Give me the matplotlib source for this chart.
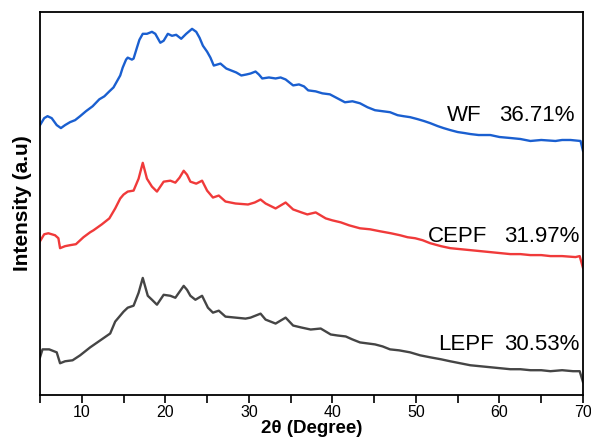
import matplotlib.pyplot as plt
from matplotlib.ticker import MultipleLocator

plt.rcParams["font.family"] = ["Liberation Sans", "DejaVu Sans"]

# 2theta (deg) and intensity (a.u.)
wf_x = [5.0, 5.5, 5.9, 6.4, 7.0, 7.5, 8.0, 8.6, 9.2, 9.8,
        10.5, 11.3, 12.1, 12.7, 13.3, 13.8, 14.2, 14.6, 14.9, 15.3,
        15.5, 16.0, 16.2, 16.6, 16.9, 17.3, 17.8, 18.4, 18.8, 19.4,
        19.8, 20.3, 20.8, 21.3, 21.9, 22.5, 23.2, 23.7, 24.1, 24.5,
        25.0, 25.4, 25.8, 26.2, 26.6, 27.3, 27.9, 28.5, 29.1, 29.7,
        30.2, 30.8, 31.2, 31.6, 32.4, 33.2, 33.8, 34.4, 35.3, 36.0,
        36.6, 37.1, 38.0, 38.8, 39.7, 40.6, 41.5, 42.4, 43.3, 44.2,
        45.1, 46.0, 46.9, 47.8, 48.5, 49.3, 50.2, 51.0, 51.7, 52.6,
        53.3, 54.1, 55.0, 55.8, 56.5, 57.5, 58.9, 60.0, 61.3, 62.5,
        63.7, 65.0, 66.7, 67.5, 68.5, 69.7, 70.0]
wf_y = [274, 281, 283, 281, 274, 271, 274, 277, 279, 283,
        288, 293, 300, 303, 308, 312, 318, 324, 332, 340,
        342, 340, 341, 352, 360, 366, 366, 368, 366, 357,
        359, 366, 364, 365, 361, 366, 371, 368, 362, 354,
        348, 342, 334, 335, 336, 331, 329, 327, 324, 325,
        326, 328, 325, 321, 322, 321, 322, 320, 314, 315,
        313, 309, 308, 306, 305, 301, 297, 298, 296, 292,
        289, 288, 287, 284, 283, 282, 280, 278, 276, 273,
        271, 269, 267, 266, 265, 264, 264, 262, 261, 260,
        258, 259, 258, 259, 259, 258, 248]

cepf_x = [5.0, 5.5, 6.0, 6.8, 7.2, 7.4, 8.0, 8.6, 9.3, 10.2,
          11.0, 11.4, 12.4, 13.3, 14.0, 14.6, 15.0, 15.5, 16.2, 16.8,
          17.3, 17.8, 18.4, 19.0, 19.4, 19.8, 20.6, 21.2, 21.7, 22.2,
          22.6, 23.0, 23.7, 24.4, 25.0, 25.7, 26.4, 27.2, 28.4, 29.9,
          30.7, 31.4, 32.0, 33.2, 33.8, 34.4, 35.3, 36.3, 37.0, 38.0,
          39.2, 40.0, 41.0, 42.0, 43.3, 44.5, 45.7, 47.0, 48.1, 49.0,
          49.9, 50.8, 51.7, 53.0, 54.1, 55.3, 56.5, 57.7, 58.9, 60.1,
          61.3, 62.5, 63.7, 65.0, 66.1, 67.5, 69.1, 69.6, 70.0]
cepf_y = [157, 164, 165, 163, 160, 150, 152, 153, 154, 161,
          166, 168, 174, 180, 190, 200, 204, 207, 208, 220,
          236, 220, 212, 207, 212, 217, 218, 216, 221, 228,
          224, 217, 215, 218, 208, 201, 203, 197, 195, 194,
          196, 199, 195, 190, 193, 196, 189, 186, 184, 186,
          180, 178, 176, 173, 170, 169, 167, 165, 163, 161,
          160, 158, 155, 152, 150, 149, 148, 147, 146, 145,
          144, 144, 143, 143, 142, 142, 141, 142, 130]

lepf_x = [5.0, 5.3, 6.1, 7.0, 7.4, 8.0, 8.9, 9.8, 11.0, 12.2,
          13.4, 14.0, 14.6, 15.0, 15.5, 16.2, 16.8, 17.3, 17.9, 18.4,
          19.0, 19.4, 19.8, 20.6, 21.2, 21.7, 22.2, 22.6, 23.0, 23.6,
          24.4, 25.1, 25.7, 26.4, 27.2, 28.4, 29.6, 30.2, 31.4, 32.0,
          33.2, 33.8, 34.4, 35.3, 36.3, 37.4, 38.6, 39.8, 40.6, 41.6,
          42.4, 43.3, 44.2, 45.1, 46.0, 46.9, 48.0, 49.3, 50.5, 51.7,
          53.0, 54.1, 55.3, 56.5, 57.7, 58.9, 60.1, 61.3, 62.5, 63.7,
          65.0, 66.1, 67.5, 68.8, 69.6, 70.0]
lepf_y = [40, 48, 48, 45, 34, 36, 37, 42, 50, 57,
          64, 76, 82, 86, 90, 92, 105, 120, 102, 98,
          93, 98, 103, 102, 100, 106, 112, 108, 102, 98,
          102, 90, 85, 87, 81, 80, 79, 80, 84, 78,
          74, 77, 80, 72, 70, 68, 69, 63, 62, 61,
          58, 55, 54, 53, 51, 48, 47, 45, 42, 40,
          38, 36, 34, 32, 31, 30, 29, 28, 28, 27,
          27, 26, 27, 26, 26, 15]

names = ["WF", "CEPF", "LEPF"]
crystallinity = ["36.71%", "31.97%", "30.53%"]

fig = plt.figure(figsize=(5.91, 4.42), dpi=100)
ax = fig.add_axes([0.0677, 0.1063, 0.9188, 0.8666])

ax.plot(wf_x, wf_y, color="#1a5fd0", lw=1.7)
ax.plot(cepf_x, cepf_y, color="#f03a3a", lw=1.7)
ax.plot(lepf_x, lepf_y, color="#454545", lw=1.7)

# labels: name left of the crystallinity value
label_pos = [(53.7, 69.05, 284), (51.4, 69.6, 162), (52.6, 69.6, 53)]
for name, pct, (xn, xp, yl) in zip(names, crystallinity, label_pos):
    ax.text(xn, yl, name, fontsize=16, ha="left", va="center")
    ax.text(xp, yl, pct, fontsize=16, ha="right", va="center")

ax.set_xlim(5, 70)
ax.set_ylim(2, 388)
ax.xaxis.set_major_locator(MultipleLocator(10))
ax.xaxis.set_minor_locator(MultipleLocator(5))
ax.set_yticks([])
ax.tick_params(axis="x", which="both", direction="out", length=6,
               width=1.2, labelsize=11.5, pad=1.5)
for s in ax.spines.values():
    s.set_linewidth(1.3)

ax.set_xlabel("2θ (Degree)", fontsize=13.5, fontweight="bold")
ax.xaxis.set_label_coords(0.5, -0.066)
ax.set_ylabel("Intensity (a.u)", fontsize=15, fontweight="bold", labelpad=6)

fig.savefig("out.png", dpi=100)
